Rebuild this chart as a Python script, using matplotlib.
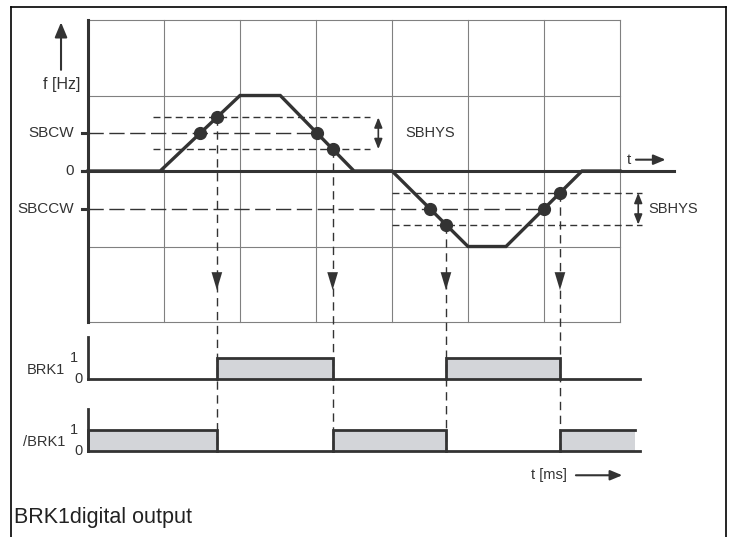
import numpy as np
import matplotlib
matplotlib.use("Agg")
import matplotlib.pyplot as plt

plt.rcParams["font.family"] = ["Liberation Sans", "DejaVu Sans"]

# speed profile (time in grid columns, frequency in grid rows)
t_prof = [0, 0.95, 2.0, 2.53, 3.5, 4.0, 5.0, 5.5, 6.5, 7.0]
f_prof = [0, 0, 1, 1, 0, 0, -1, -1, 0, 0]
SBCW = 0.5
SBCCW = -0.5
SBHYS = 0.42          # full hysteresis band
y_labels = ["SBCW", "0", "SBCCW"]
y_levels = [SBCW, 0, SBCCW]

DARK = "#333333"; GRID = "#808080"; FILL = "#d3d5d9"


def cross(i, level):
    # time at which ramp segment i -> i+1 passes `level`
    f0, f1 = f_prof[i], f_prof[i + 1]
    t0, t1 = t_prof[i], t_prof[i + 1]
    return t0 + (level - f0) / (f1 - f0) * (t1 - t0)


h = SBHYS / 2
# (segment, threshold level, switching level)
events = [(1, SBCW, SBCW + h), (3, SBCW, SBCW - h),
          (5, SBCCW, SBCCW - h), (7, SBCCW, SBCCW + h)]
dots = []
switch = []
for seg, lvl, sw in events:
    dots.append((cross(seg, lvl), lvl))
    dots.append((cross(seg, sw), sw))
    switch.append((cross(seg, sw), sw))
ts = [s[0] for s in switch]

fig = plt.figure(figsize=(7.29, 5.37), dpi=100)
ax = fig.add_axes([0, 0, 1, 1])
ax.set_xlim(-88 / 76, (729 - 88) / 76)
ax.set_ylim(-(537 - 171) / 75.5, 171 / 75.5)
ax.axis("off")

# outer frame
for xs, ys in [([0.0151, 0.0151], [0, 0.987]), ([0.0151, 0.9959], [0.987, 0.987]),
               ([0.9959, 0.9959], [0.987, 0])]:
    ax.plot(xs, ys, color="black", lw=1.2, transform=ax.transAxes, clip_on=False)

# grid
for gx in range(1, 8):
    ax.plot([gx, gx], [-2, 2], color=GRID, lw=0.8)
for gy in [-2, -1, 1, 2]:
    ax.plot([0, 7], [gy, gy], color=GRID, lw=0.8)
ax.plot([0, 0], [-2, 2], color=DARK, lw=2.2)
ax.plot([-0.08, 7.71], [0, 0], color=DARK, lw=2.2)
for lv in y_levels:
    ax.plot([-0.08, 0], [lv, lv], color=DARK, lw=2.2)
for lab, lv in zip(y_labels, y_levels):
    ax.text(-0.18, lv, lab, ha="right", va="center", fontsize=11, color=DARK)

# f axis arrow + label
big = "-|>,head_length=0.6,head_width=0.25"
ax.annotate("", xy=(-0.355, 1.97), xytext=(-0.355, 1.34),
            arrowprops=dict(arrowstyle=big, color=DARK, lw=1.5, mutation_scale=15,
                            shrinkA=0, shrinkB=0))
ax.text(-0.105, 1.14, "f [Hz]", ha="right", va="center", fontsize=11.5, color=DARK)
ax.text(7.12, 0.15, "t", ha="center", va="center", fontsize=11, color=DARK)
ax.annotate("", xy=(7.6, 0.15), xytext=(7.21, 0.15),
            arrowprops=dict(arrowstyle=big, color=DARK, lw=1.5, mutation_scale=12,
                            shrinkA=0, shrinkB=0))

# threshold lines
ax.plot([0, dots[2][0] + 0.06], [SBCW, SBCW], color=DARK, lw=1, ls=(0, (11, 4)))
ax.plot([0, dots[6][0]], [SBCCW, SBCCW], color=DARK, lw=1, ls=(0, (11, 4)))
for lv in [SBCW + h, SBCW - h]:
    ax.plot([0.855, 3.71], [lv, lv], color=DARK, lw=1, ls=(0, (5, 3)))
for lv in [SBCCW + h, SBCCW - h]:
    ax.plot([4.0, 7.29], [lv, lv], color=DARK, lw=1, ls=(0, (5, 3)))
for ax_x, lv, tx in [(3.82, SBCW, 4.17), (7.24, SBCCW, 7.37)]:
    ax.annotate("", xy=(ax_x, lv + h), xytext=(ax_x, lv - h),
                arrowprops=dict(arrowstyle="<|-|>,head_length=0.5,head_width=0.2",
                                color=DARK, lw=1.2, mutation_scale=12,
                                shrinkA=0, shrinkB=0))
    ax.text(tx, lv, "SBHYS", ha="left", va="center", fontsize=10.5, color=DARK)

# profile
ax.plot(t_prof, f_prof, color=DARK, lw=2.4, solid_joinstyle="miter")
ax.plot([d[0] for d in dots], [d[1] for d in dots], "o", color=DARK, ms=8.5)

# digital lanes
lanes = [("BRK1", -2.755, [(ts[0], ts[1]), (ts[2], ts[3])]),
         ("/BRK1", -3.709, [(0, ts[0]), (ts[1], ts[2]), (ts[3], 7.2)])]
hi = 0.28
for name, base, highs in lanes:
    ax.plot([0, 0], [base, base + 0.56], color=DARK, lw=2)
    ax.plot([0, 7.26], [base, base], color=DARK, lw=2)
    for a, b in highs:
        ax.fill_between([a, b], base, base + hi, color=FILL, lw=0)
        xs = [a, a, b] if b >= 7.2 else [a, a, b, b]
        ys = [base, base + hi, base + hi] if b >= 7.2 else [base, base + hi, base + hi, base]
        ax.plot(xs, ys, color=DARK, lw=2, solid_joinstyle="miter")
    ax.text(-0.3, base + hi / 2 - 0.02, name, ha="right", va="center", fontsize=10.5, color=DARK)
    ax.text(-0.19, base + hi, "1", ha="center", va="center", fontsize=10.5, color=DARK)
    ax.text(-0.13, base, "0", ha="center", va="center", fontsize=10.5, color=DARK)

# switching verticals
for x0, y0 in switch:
    ax.plot([x0, x0], [y0, -3.709], color=DARK, lw=1, ls=(0, (6, 4)))
    ax.annotate("", xy=(x0, -1.576), xytext=(x0, -1.3),
                arrowprops=dict(arrowstyle="-|>,head_length=0.8,head_width=0.24",
                                color=DARK, lw=0.01, mutation_scale=16,
                                shrinkA=0, shrinkB=0))

ax.text(6.3, -4.03, "t [ms]", ha="right", va="center", fontsize=10.5, color=DARK)
ax.annotate("", xy=(7.03, -4.03), xytext=(6.42, -4.03),
            arrowprops=dict(arrowstyle=big, color=DARK, lw=1.5, mutation_scale=12,
                            shrinkA=0, shrinkB=0))

fig.text(14 / 729, 1 - 517 / 537, "BRK1digital output", ha="left", va="center",
         fontsize=15.5, color="#222222")

fig.savefig("out.png", dpi=100)
